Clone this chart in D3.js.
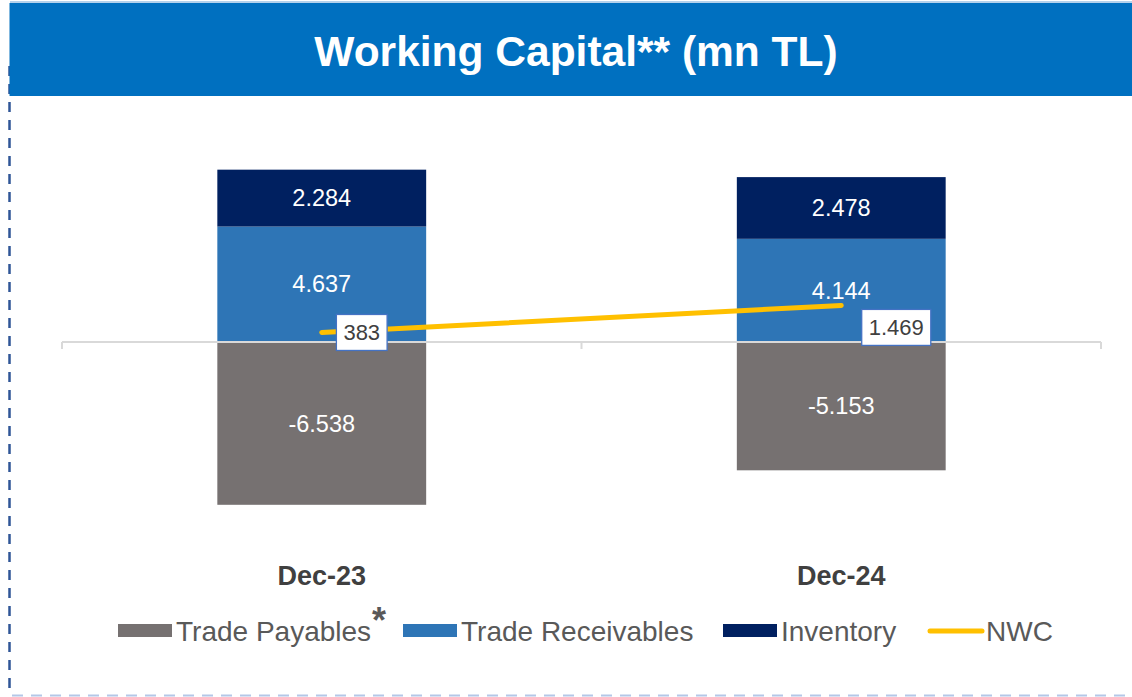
<!DOCTYPE html>
<html>
<head>
<meta charset="utf-8">
<script src="https://cdn.jsdelivr.net/npm/d3@7"></script>
<style>
  body { margin: 0; background: #fff; }
  svg { display: block; font-family: "Liberation Sans", Arial, sans-serif; }
</style>
</head>
<body>
<div id="chart"></div>
<script>
// chart values (mn TL)
var categories = ["Dec-23", "Dec-24"];
var tradePayables = [-6538, -5153];
var tradeReceivables = [4637, 4144];
var inventory = [2284, 2478];
var nwc = [383, 1469];

var seriesNames = ["Trade Payables", "Trade Receivables", "Inventory"];
var seriesColors = ["#767171", "#2E75B6", "#002060"];

var W = 1132, H = 697;

var svg = d3.select("#chart").append("svg")
    .attr("width", W)
    .attr("height", H);

svg.append("rect").attr("width", W).attr("height", H).attr("fill", "#fff");

// dashed frame (left + bottom)
svg.append("line")
    .attr("x1", 9.5).attr("x2", 9.5)
    .attr("y1", 66).attr("y2", 692)
    .attr("stroke", "#2F5597").attr("stroke-width", 2.5)
    .attr("stroke-dasharray", "10,8");
svg.append("line")
    .attr("x1", 12).attr("x2", W)
    .attr("y1", 695.5).attr("y2", 695.5)
    .attr("stroke", "#B4C7E7").attr("stroke-width", 2)
    .attr("stroke-dasharray", "11,8");

// title bar
svg.append("line")
    .attr("x1", 10).attr("x2", W).attr("y1", 2).attr("y2", 2)
    .attr("stroke", "#9DC3E6").attr("stroke-width", 1.5);
svg.append("rect")
    .attr("x", 9.5).attr("y", 3)
    .attr("width", W - 9.5).attr("height", 93)
    .attr("fill", "#0070C0");
svg.append("text")
    .attr("x", 576).attr("y", 66)
    .attr("text-anchor", "middle")
    .attr("fill", "#fff")
    .style("font-size", "42.5px")
    .style("font-weight", "bold")
    .text("Working Capital** (mn TL)");

// scales
var x = d3.scaleBand()
    .domain(categories)
    .range([62, 1101])
    .padding(0);

var y = d3.scaleLinear()
    .domain([-8000, 8000])
    .range([541.2, 142.8]);

var barW = x.bandwidth() * 0.402;

var fmt = d3.formatLocale({
    decimal: ",", thousands: ".", grouping: [3], currency: ["", ""], minus: "-"
}).format(",d");

// stacked data
var rows = categories.map(function(c, i) {
    return {
        cat: c,
        "Trade Payables": tradePayables[i],
        "Trade Receivables": tradeReceivables[i],
        "Inventory": inventory[i]
    };
});

var stack = d3.stack()
    .keys(seriesNames)
    .offset(d3.stackOffsetDiverging);
var layers = stack(rows);

var layer = svg.selectAll("g.layer")
    .data(layers)
    .enter().append("g")
    .attr("class", "layer")
    .attr("fill", function(d, i) { return seriesColors[i]; });

layer.selectAll("rect")
    .data(function(d) { return d; })
    .enter().append("rect")
    .attr("x", function(d) { return x(d.data.cat) + (x.bandwidth() - barW) / 2; })
    .attr("y", function(d) { return y(Math.max(d[0], d[1])); })
    .attr("width", barW)
    .attr("height", function(d) { return Math.abs(y(d[0]) - y(d[1])); });

// segment labels
layers.forEach(function(l) {
    svg.append("g").selectAll("text")
        .data(l)
        .enter().append("text")
        .attr("x", function(d) { return x(d.data.cat) + x.bandwidth() / 2; })
        .attr("y", function(d) { return (y(d[0]) + y(d[1])) / 2; })
        .attr("dy", "0.35em")
        .attr("text-anchor", "middle")
        .attr("fill", "#fff")
        .style("font-size", "23.5px")
        .text(function(d) { return fmt(d.data[l.key]); });
});

// zero axis with ticks at band edges
var axisY = y(0);
svg.append("line")
    .attr("x1", x.range()[0]).attr("x2", x.range()[1])
    .attr("y1", axisY).attr("y2", axisY)
    .attr("stroke", "#D9D9D9").attr("stroke-width", 2);
var edges = categories.map(function(c) { return x(c); }).concat([x.range()[1]]);
svg.selectAll("line.tick")
    .data(edges)
    .enter().append("line")
    .attr("class", "tick")
    .attr("x1", function(d) { return d; }).attr("x2", function(d) { return d; })
    .attr("y1", axisY).attr("y2", axisY + 7)
    .attr("stroke", "#D9D9D9").attr("stroke-width", 2);

// category labels
svg.selectAll("text.cat")
    .data(categories)
    .enter().append("text")
    .attr("class", "cat")
    .attr("x", function(d) { return x(d) + x.bandwidth() / 2; })
    .attr("y", 585)
    .attr("text-anchor", "middle")
    .attr("fill", "#404040")
    .style("font-size", "27px")
    .style("font-weight", "bold")
    .text(function(d) { return d; });

// NWC line
var line = d3.line()
    .x(function(d, i) { return x(categories[i]) + x.bandwidth() / 2; })
    .y(function(d) { return y(d); });

svg.append("path")
    .datum(nwc)
    .attr("d", line)
    .attr("fill", "none")
    .attr("stroke", "#FFC000")
    .attr("stroke-width", 5)
    .attr("stroke-linecap", "round");

// NWC labels (offsets as placed in the original)
var labelOffsets = [[40, 0], [55, 22]];
var nwcLabel = svg.selectAll("g.nwc")
    .data(nwc)
    .enter().append("g")
    .attr("class", "nwc")
    .attr("transform", function(d, i) {
        var cx = x(categories[i]) + x.bandwidth() / 2 + labelOffsets[i][0];
        var cy = y(d) + labelOffsets[i][1];
        return "translate(" + cx + "," + cy + ")";
    });

nwcLabel.append("text")
    .attr("text-anchor", "middle")
    .attr("dy", "0.35em")
    .attr("fill", "#404040")
    .style("font-size", "22px")
    .text(function(d) { return fmt(d); })
    .each(function() {
        var bb = this.getBBox();
        d3.select(this.parentNode).insert("rect", "text")
            .attr("x", bb.x - 7)
            .attr("y", -18)
            .attr("width", bb.width + 14)
            .attr("height", 36)
            .attr("fill", "#fff")
            .attr("stroke", "#4472C4")
            .attr("stroke-width", 1.3);
    });

// legend
var legendItems = [
    {name: "Trade Payables", color: seriesColors[0], x: 118, type: "rect", star: true},
    {name: "Trade Receivables", color: seriesColors[1], x: 403, type: "rect"},
    {name: "Inventory", color: seriesColors[2], x: 723, type: "rect"},
    {name: "NWC", color: "#FFC000", x: 928, type: "line"}
];
var legendY = 631;

var lg = svg.selectAll("g.legend")
    .data(legendItems)
    .enter().append("g")
    .attr("class", "legend")
    .attr("transform", function(d) { return "translate(" + d.x + "," + legendY + ")"; });

lg.filter(function(d) { return d.type === "rect"; })
    .append("rect")
    .attr("x", 0).attr("y", -7)
    .attr("width", 54).attr("height", 13)
    .attr("fill", function(d) { return d.color; });

lg.filter(function(d) { return d.type === "line"; })
    .append("line")
    .attr("x1", 2).attr("x2", 54)
    .attr("y1", 0).attr("y2", 0)
    .attr("stroke", function(d) { return d.color; })
    .attr("stroke-width", 5)
    .attr("stroke-linecap", "round");

var lt = lg.append("text")
    .attr("x", 58)
    .attr("y", 10)
    .attr("fill", "#595959")
    .style("font-size", "28px")
    .text(function(d) { return d.name; });

lt.filter(function(d) { return d.star; })
    .append("tspan")
    .attr("dx", 1)
    .attr("dy", -8)
    .style("font-size", "36px")
    .style("font-weight", "bold")
    .text("*");
</script>
</body>
</html>
